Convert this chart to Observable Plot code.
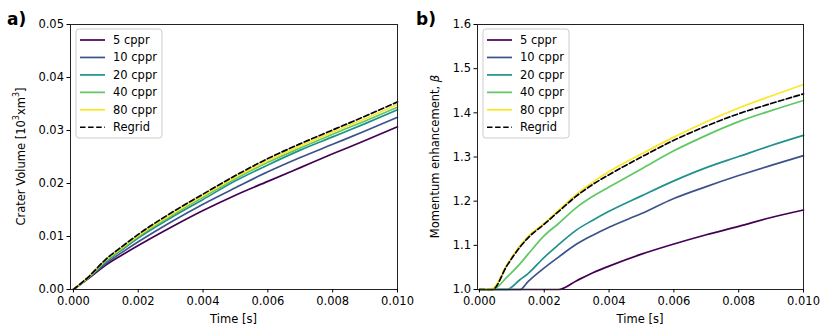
<!DOCTYPE html>
<html><head><meta charset="utf-8">
<script src="https://cdn.jsdelivr.net/npm/d3@7"></script>
<script src="https://cdn.jsdelivr.net/npm/@observablehq/plot@0.6"></script>
<style>
body{margin:0;background:#fff;}
#wrap{position:relative;width:830px;height:335px;font-family:"DejaVu Sans",sans-serif;}
.panel{position:absolute;top:0;}
</style></head><body><div id="wrap"></div>
<script>
// ---- data ----
const seriesNames = ["5 cppr", "10 cppr", "20 cppr", "40 cppr", "80 cppr", "Regrid"];
const seriesColors = ["#440154", "#3b528b", "#21918c", "#5ec962", "#fde725", "#000000"];

const xTicks = [0, 0.002, 0.004, 0.006, 0.008, 0.010];
const volTicks = [0, 0.01, 0.02, 0.03, 0.04, 0.05];
const betaTicks = [1.0, 1.1, 1.2, 1.3, 1.4, 1.5, 1.6];

// panel a) crater volume
const volTime = [0, 0.00045, 0.001, 0.0015, 0.002, 0.003, 0.004, 0.005, 0.006, 0.007, 0.008, 0.009, 0.010];
const vol5 = [0, 0.0020, 0.0046, 0.0065, 0.0083, 0.0117, 0.0149, 0.0178, 0.0204, 0.0230, 0.0256, 0.0281, 0.0307];
const vol10 = [0, 0.0021, 0.0049, 0.0070, 0.0090, 0.0127, 0.0161, 0.0192, 0.0222, 0.0249, 0.0274, 0.0299, 0.0325];
const vol20 = [0, 0.0022, 0.0052, 0.0075, 0.0097, 0.0135, 0.0170, 0.0205, 0.0235, 0.0263, 0.0288, 0.0313, 0.0339];
const vol40 = [0, 0.0022, 0.0054, 0.0077, 0.0100, 0.0138, 0.0174, 0.0209, 0.0240, 0.0267, 0.0293, 0.0318, 0.0344];
const vol80 = [0, 0.0023, 0.0056, 0.0079, 0.0102, 0.0141, 0.0177, 0.0212, 0.0243, 0.0271, 0.0297, 0.0322, 0.0349];
const volRegrid = [0, 0.0023, 0.0057, 0.0081, 0.0104, 0.0144, 0.0180, 0.0215, 0.0247, 0.0275, 0.0301, 0.0327, 0.0354];

// panel b) momentum enhancement
const betaTime = [0, 0.0004, 0.00085, 0.00125, 0.0015, 0.002, 0.00245, 0.003, 0.0035, 0.004, 0.005, 0.006, 0.007, 0.008, 0.009, 0.010];
const beta5 = [1.0, 1.0, 1.0, 1.0, 1.0, 1.0, 1.0, 1.020, 1.038, 1.053, 1.080, 1.103, 1.124, 1.143, 1.163, 1.180];
const beta10 = [1.0, 1.0, 1.0, 1.0, 1.018, 1.049, 1.074, 1.103, 1.123, 1.141, 1.172, 1.206, 1.233, 1.258, 1.281, 1.303];
const beta20 = [1.0, 1.0, 1.0, 1.022, 1.036, 1.073, 1.102, 1.135, 1.157, 1.177, 1.212, 1.246, 1.276, 1.301, 1.326, 1.349];
const beta40 = [1.0, 1.0, 1.028, 1.058, 1.080, 1.122, 1.150, 1.186, 1.211, 1.232, 1.273, 1.314, 1.349, 1.380, 1.405, 1.428];
const beta80 = [1.0, 1.002, 1.056, 1.099, 1.120, 1.150, 1.180, 1.216, 1.243, 1.267, 1.307, 1.345, 1.380, 1.411, 1.438, 1.464];
const betaRegrid = [1.0, 1.0, 1.054, 1.096, 1.117, 1.148, 1.177, 1.212, 1.238, 1.260, 1.300, 1.338, 1.370, 1.398, 1.421, 1.443];

// ---- build tables ----
function toLong(times, arrays) {
  const out = [];
  arrays.forEach((arr, i) => arr.forEach((v, j) => out.push({series: seriesNames[i], t: times[j], v})));
  return out;
}
const volData = toLong(volTime, [vol5, vol10, vol20, vol40, vol80, volRegrid]);
const betaData = toLong(betaTime, [beta5, beta10, beta20, beta40, beta80, betaRegrid]);

const FONT = "DejaVu Sans";
const FS = 11.5;

function makePanel(data, opts) {
  const solid = data.filter(d => d.series !== "Regrid");
  const dashed = data.filter(d => d.series === "Regrid");
  const plot = Plot.plot({
    width: opts.width, height: 335,
    marginLeft: opts.ml, marginRight: opts.mr, marginTop: 24, marginBottom: 46,
    style: {fontFamily: FONT, fontSize: FS + "px", color: "#000", background: "transparent"},
    x: {domain: opts.xDomain, label: null},
    y: {domain: opts.yDomain, label: null},
    color: {domain: seriesNames, range: seriesColors},
    marks: [
      Plot.line(solid, {x: "t", y: "v", z: "series", stroke: "series", strokeWidth: 1.7, curve: "monotone-x"}),
      Plot.line(dashed, {x: "t", y: "v", stroke: "#000", strokeWidth: 1.7, strokeDasharray: "5.5,2.6", curve: "monotone-x"}),
      Plot.frame({stroke: "#222", strokeWidth: 1}),
      Plot.axisX({ticks: xTicks, tickFormat: d3.format(".3f"), tickSize: 3.5, tickPadding: 4, label: null, fontSize: FS}),
      Plot.axisY({ticks: opts.yTicks, tickFormat: opts.yFormat, tickSize: 3.5, tickPadding: 3, label: null, fontSize: FS})
    ]
  });
  const svg = d3.select(plot);
  svg.style("overflow", "visible");
  // x label
  svg.append("text").attr("x", opts.ml + (opts.width - opts.ml - opts.mr) / 2).attr("y", 323)
    .attr("text-anchor", "middle").attr("font-family", FONT).attr("font-size", FS).attr("fill", "#000").text("Time [s]");
  // y label
  const yl = svg.append("text").attr("transform", `translate(${opts.ylx},156.5) rotate(-90)`)
    .attr("text-anchor", "middle").attr("dominant-baseline", "central")
    .attr("font-family", FONT).attr("font-size", FS).attr("fill", "#000");
  opts.yLabel(yl);
  // panel letter
  svg.append("text").attr("x", opts.letterX).attr("y", 25).attr("text-anchor", "start").attr("font-family", FONT)
    .attr("font-weight", "bold").attr("font-size", 17).attr("fill", "#000").text(opts.letter);
  // legend
  const lx = opts.legX, ly = 29;
  const g = svg.append("g");
  g.append("rect").attr("x", lx).attr("y", ly).attr("width", 86).attr("height", 109).attr("rx", 3)
    .attr("fill", "#fff").attr("fill-opacity", 0.8).attr("stroke", "#cccccc").attr("stroke-width", 1);
  seriesNames.forEach((n, i) => {
    const yy = ly + 11 + i * 17.45;
    g.append("line").attr("x1", lx + 4).attr("x2", lx + 29).attr("y1", yy).attr("y2", yy)
      .attr("stroke", seriesColors[i]).attr("stroke-width", 1.7)
      .attr("stroke-dasharray", n === "Regrid" ? "5.5,2.6" : null);
    g.append("text").attr("x", lx + 37).attr("y", yy).attr("text-anchor", "start").attr("dominant-baseline", "central")
      .attr("font-family", FONT).attr("font-size", FS).attr("fill", "#000").text(n);
  });
  return plot;
}

const wrap = document.getElementById("wrap");

const left = makePanel(volData, {
  width: 410, ml: 70, mr: 13, xDomain: [-0.00009, 0.010], yDomain: [0, 0.05],
  yTicks: volTicks, yFormat: d3.format(".2f"), ylx: 21, letter: "a)", letterX: 7, legX: 76,
  yLabel: t => { t.append("tspan").text("Crater Volume [10");
    t.append("tspan").attr("font-size", 8).attr("dy", -5).text("3");
    t.append("tspan").attr("dy", 5).text("xm");
    t.append("tspan").attr("font-size", 8).attr("dy", -5).text("3");
    t.append("tspan").attr("dy", 5).text("]"); }
});
left.classList.add("panel"); left.style.left = "0px";
wrap.appendChild(left);

const right = makePanel(betaData, {
  width: 420, ml: 67, mr: 27, xDomain: [-0.00006, 0.010], yDomain: [1.0, 1.6],
  yTicks: betaTicks, yFormat: d3.format(".1f"), ylx: 25, letter: "b)", letterX: 6, legX: 73,
  yLabel: t => { t.append("tspan").text("Momentum enhancement, ");
    t.append("tspan").attr("font-style", "italic").text("β"); }
});
right.classList.add("panel"); right.style.left = "410px";
wrap.appendChild(right);
</script>
</body></html>
